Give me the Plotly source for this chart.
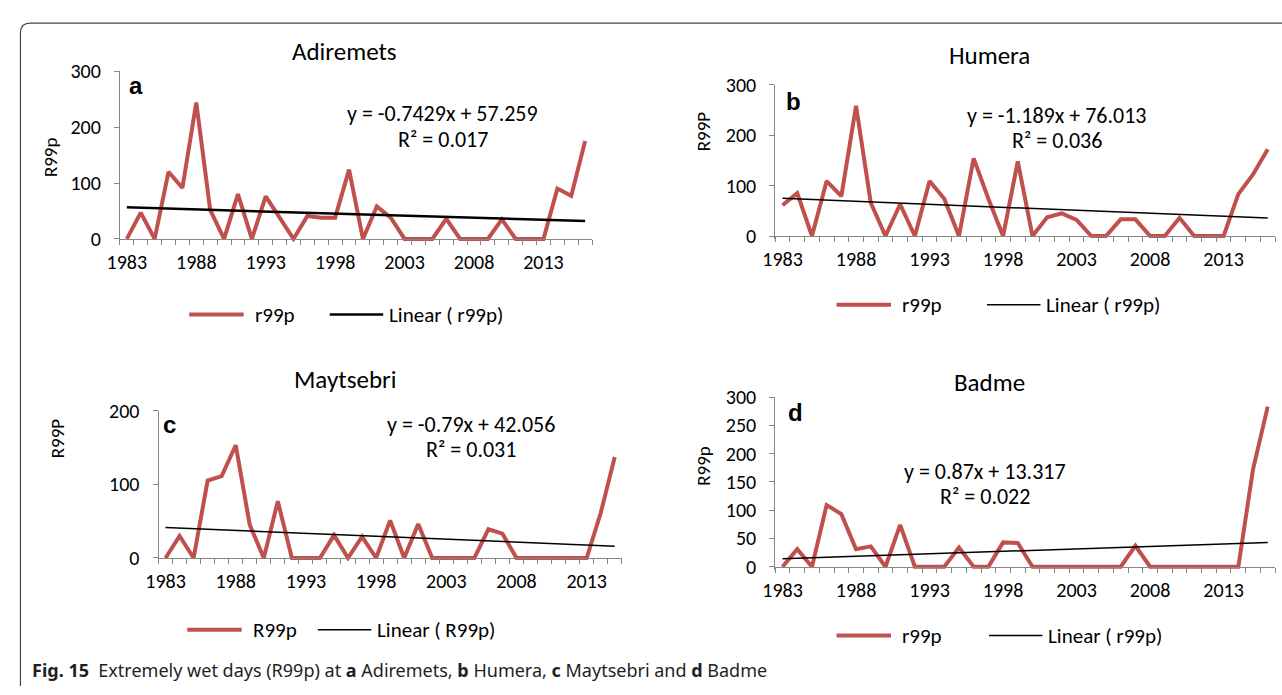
import plotly.graph_objects as go

W, H = 1282, 695

# ---------------- data ----------------
years_34 = list(range(1983, 2017))
years_33 = list(range(1983, 2016))

adiremets = [0, 47, 0, 120, 91, 244, 52, 0, 80, 0, 76, 38, 0, 41, 38, 38, 124, 0, 58, 38,
             0, 0, 0, 36, 0, 0, 0, 35, 0, 0, 0, 90, 77, 175]
humera = [61, 85, 0, 109, 79, 258, 66, 0, 63, 0, 109, 74, 0, 154, 74, 0, 148, 0, 37, 45,
          32, 0, 0, 33, 33, 0, 0, 36, 0, 0, 0, 83, 122, 172]
maytsebri = [0, 30, 0, 105, 111, 153, 45, 0, 77, 0, 0, 0, 31, 0, 29, 0, 51, 0, 46, 0,
             0, 0, 0, 39, 33, 0, 0, 0, 0, 0, 0, 61, 137]
badme = [0, 31, 0, 109, 93, 31, 36, 0, 74, 0, 0, 0, 34, 0, 0, 43, 42, 0, 0, 0,
         0, 0, 0, 0, 37, 0, 0, 0, 0, 0, 0, 0, 172, 283]

# trend-line coefficients (from the printed equations, x = 1..n)
trend_a = (-0.7429, 57.259)
trend_b = (-1.189, 76.013)
trend_c = (-0.79, 42.056)
trend_d = (0.87, 13.317)

titles = ["Adiremets", "Humera", "Maytsebri", "Badme"]
letters = ["a", "b", "c", "d"]
ytitles = ["R99p", "R99P", "R99P", "R99p"]
eq_lines = [("y = -0.7429x + 57.259", "R² = 0.017"),
            ("y = -1.189x + 76.013", "R² = 0.036"),
            ("y = -0.79x + 42.056", "R² = 0.031"),
            ("y = 0.87x + 13.317", "R² = 0.022")]
legend_names = [("r99p", "Linear ( r99p)"), ("r99p", "Linear ( r99p)"),
                ("R99p", "Linear ( R99p)"), ("r99p", "Linear ( r99p)")]
xtick_labels = [1983, 1988, 1993, 1998, 2003, 2008, 2013]
yticks = [[0, 100, 200, 300], [0, 100, 200, 300], [0, 100, 200],
          [0, 50, 100, 150, 200, 250, 300]]
ytops = [300, 300, 200, 300]

series = [adiremets, humera, maytsebri, badme]
years = [years_34, years_34, years_33, years_34]
trends = [trend_a, trend_b, trend_c, trend_d]

# ---------------- layout geometry (pixels) ----------------
geom = [
    dict(x0=108, x1=585, y0=234, yt=61),
    dict(x0=770, x1=1275, y0=231, yt=75),
    dict(x0=147, x1=615, y0=563, yt=411),
    dict(x0=770, x1=1275, y0=572, yt=397),
]
title_pos = [(335, 41), (987, 45), (336, 379), (987, 382)]
letter_pos = [(124, 76), (789, 92), (158, 425), (791, 413)]
ytitle_pos = [(38, 150), (697, 123), (45, 440), (698, 468)]
eq_pos = [(434, 105, 131), (1055, 107, 133), (463, 425, 451), (982, 474, 500)]
legend_pos = [(178, 312, 320), (832, 302, 984), (176, 637, 308), (832, 643, 986)]
trend_widths = [2.5, 1.5, 1.5, 1.5]

RED = "#C0504D"
AXIS = "#868686"
FONT = "Carlito, Calibri, Lato, sans-serif"
TICK_SIZE = 20
LEG_SIZE = 21
EQ_SIZE = 22
TITLE_SIZE = 25

fig = go.Figure()
annotations = []
shapes = []

def px(x):
    return x / W

def py(y):
    return 1 - y / H

for i in range(4):
    g = geom[i]
    yrs = years[i]
    n = len(yrs)
    vals = series[i]
    m, b = trends[i]
    trend_vals = [m * (k + 1) + b for k in range(n)]
    ax = "" if i == 0 else str(i + 1)
    top = ytops[i]
    pad = 3
    ymin = -pad * top / (g["y0"] - g["yt"])

    fig.add_trace(go.Scatter(x=yrs, y=vals, mode="lines",
                             line=dict(color=RED, width=4),
                             xaxis="x" + ax, yaxis="y" + ax, showlegend=False,
                             name=legend_names[i][0]))
    fig.add_trace(go.Scatter(x=yrs, y=trend_vals, mode="lines",
                             line=dict(color="black", width=trend_widths[i]),
                             xaxis="x" + ax, yaxis="y" + ax, showlegend=False,
                             name=legend_names[i][1]))

    boundaries = [yrs[0] - 0.5 + k for k in range(n + 1)]
    fig.update_layout(**{
        "xaxis" + ax: dict(
            domain=[px(g["x0"]), px(g["x1"])],
            range=[yrs[0] - 0.5, yrs[-1] + 0.5],
            anchor="free", position=py(g["y0"]),
            showline=True, linecolor=AXIS, linewidth=1,
            showgrid=False, zeroline=False,
            tickmode="array", tickvals=xtick_labels,
            ticktext=[str(v) for v in xtick_labels],
            ticks="outside", ticklen=5, tickcolor="rgba(0,0,0,0)",
            tickfont=dict(family=FONT, size=TICK_SIZE, color="black"),
            minor=dict(tickvals=boundaries, ticks="outside", ticklen=5,
                       tickcolor=AXIS, tickwidth=1, showgrid=False),
            fixedrange=True,
        ),
        "yaxis" + ax: dict(
            domain=[py(g["y0"] + pad), py(g["yt"])],
            range=[ymin, top],
            anchor="x" + ax,
            showline=True, linecolor=AXIS, linewidth=1,
            showgrid=False, zeroline=False,
            tickmode="array", tickvals=yticks[i],
            ticks="outside", ticklen=5, tickcolor=AXIS,
            ticklabelstandoff=9,
            tickfont=dict(family=FONT, size=TICK_SIZE, color="black"),
            fixedrange=True,
        ),
    })

    tx, ty = title_pos[i]
    annotations.append(dict(x=px(tx), y=py(ty), xref="paper", yref="paper",
                            text=titles[i], showarrow=False,
                            font=dict(family=FONT, size=TITLE_SIZE, color="black"),
                            xanchor="center", yanchor="middle"))
    lx, ly = letter_pos[i]
    annotations.append(dict(x=px(lx), y=py(ly), xref="paper", yref="paper",
                            text="<b>" + letters[i] + "</b>", showarrow=False,
                            font=dict(family="Liberation Sans, Arial, sans-serif", size=24, color="black"),
                            xanchor="center", yanchor="middle"))
    yx, yy = ytitle_pos[i]
    annotations.append(dict(x=px(yx), y=py(yy), xref="paper", yref="paper",
                            text=ytitles[i], showarrow=False, textangle=-90,
                            font=dict(family=FONT, size=19, color="black"),
                            xanchor="center", yanchor="middle"))
    ex, ey1, ey2 = eq_pos[i]
    for txt, yy_ in ((eq_lines[i][0], ey1), (eq_lines[i][1], ey2)):
        annotations.append(dict(x=px(ex), y=py(yy_), xref="paper", yref="paper",
                                text=txt, showarrow=False,
                                font=dict(family=FONT, size=EQ_SIZE, color="black"),
                                xanchor="center", yanchor="middle"))
    lgx, lgy, lgx2 = legend_pos[i]
    shapes.append(dict(type="line", xref="paper", yref="paper",
                       x0=px(lgx), x1=px(lgx + 55), y0=py(lgy), y1=py(lgy),
                       line=dict(color=RED, width=4)))
    annotations.append(dict(x=px(lgx + 64), y=py(lgy), xref="paper", yref="paper",
                            text=legend_names[i][0], showarrow=False,
                            font=dict(family=FONT, size=LEG_SIZE, color="black"),
                            xanchor="left", yanchor="middle"))
    shapes.append(dict(type="line", xref="paper", yref="paper",
                       x0=px(lgx2), x1=px(lgx2 + 54), y0=py(lgy), y1=py(lgy),
                       line=dict(color="black", width=trend_widths[i])))
    annotations.append(dict(x=px(lgx2 + 58), y=py(lgy), xref="paper", yref="paper",
                            text=legend_names[i][1], showarrow=False,
                            font=dict(family=FONT, size=LEG_SIZE, color="black"),
                            xanchor="left", yanchor="middle"))

annotations.append(dict(x=px(17), y=py(678), xref="paper", yref="paper",
                        text="<b>Fig. 15</b>  Extremely wet days (R99p) at <b>a</b> Adiremets, "
                             "<b>b</b> Humera, <b>c</b> Maytsebri and <b>d</b> Badme",
                        showarrow=False, xanchor="left", yanchor="middle",
                        font=dict(family="Noto Sans, sans-serif", size=18, color="#231f20")))

r = 10
bx, by = 7.5, 11.5
path = (f"M {px(bx)},{py(H)} L {px(bx)},{py(by + r)} "
        f"Q {px(bx)},{py(by)} {px(bx + r)},{py(by)} L {px(W)},{py(by)}")
shapes.append(dict(type="path", xref="paper", yref="paper", path=path,
                   line=dict(color="#444444", width=1.2)))

fig.update_layout(width=W, height=H, margin=dict(l=0, r=0, t=0, b=0),
                  paper_bgcolor="white", plot_bgcolor="white",
                  showlegend=False, annotations=annotations, shapes=shapes)

fig.write_html("out.html", config={"displayModeBar": False},
               post_script="document.body.style.margin='0px';document.body.style.overflow='hidden';")
